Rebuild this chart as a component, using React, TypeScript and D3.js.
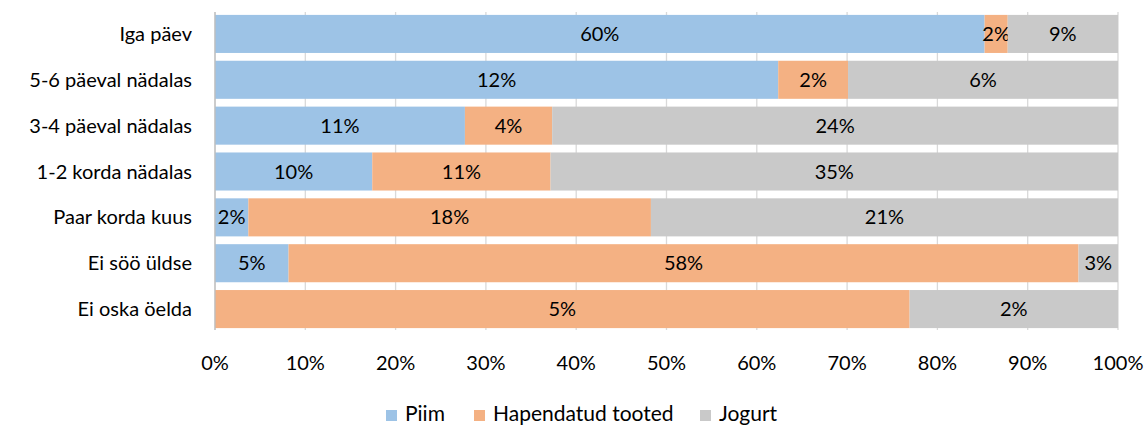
import React from "react";
import * as d3 from "d3";

const categories = [
  "Iga päev",
  "5-6 päeval nädalas",
  "3-4 päeval nädalas",
  "1-2 korda nädalas",
  "Paar korda kuus",
  "Ei söö üldse",
  "Ei oska öelda",
];
const seriesNames = ["Piim", "Hapendatud tooted", "Jogurt"];
const piim = [60.0, 12.1, 10.6, 9.7, 1.5, 5.4, 0];
const hapendatud = [1.8, 1.5, 3.7, 11.0, 18.1, 58.0, 5.0];
const jogurt = [8.6, 5.8, 24.0, 35.0, 21.0, 2.9, 1.5];
const colors = ["#9DC3E6", "#F4B183", "#C9C9C9"];
const xTicks = [0, 0.1, 0.2, 0.3, 0.4, 0.5, 0.6, 0.7, 0.8, 0.9, 1];

const W = 1147;
const H = 425;
const margin = { left: 215, right: 29, top: 11, bottom: 93 };
const FONT = "Lato, 'Open Sans', sans-serif";
const FS = 20;

export default function App() {
  const series = [piim, hapendatud, jogurt];
  const x = d3.scaleLinear().domain([0, 1]).range([margin.left, W - margin.right]);
  const y = d3
    .scaleBand<string>()
    .domain(categories)
    .range([margin.top, H - margin.bottom])
    .paddingInner(0.17)
    .paddingOuter(0.085);
  const fmt = (v: number) => d3.format(".0f")(v) + "%";
  const rows = categories.map((c, i) => {
    const vals = series.map((s) => s[i]);
    const total = d3.sum(vals);
    let acc = 0;
    return vals.map((v, k) => {
      const x0 = acc / total;
      acc += v;
      return { k, v, x0, x1: acc / total, c };
    });
  });
  const legendItems = [
    { name: seriesNames[0], x: 386 },
    { name: seriesNames[1], x: 474 },
    { name: seriesNames[2], x: 700 },
  ];
  return (
    <svg width={W} height={H} style={{ display: "block", position: "absolute", left: 0, top: 0 }} fontFamily={FONT}>
      <rect width={W} height={H} fill="#fff" />
      {xTicks.map((t) => (
        <line key={t} x1={x(t)} x2={x(t)} y1={margin.top + 1} y2={H - margin.bottom - 2} stroke="#D9D9D9" strokeWidth={1.3} />
      ))}
      {rows.map((segs) =>
        segs.map((s) =>
          s.v > 0 ? (
            <g key={s.c + s.k}>
              <rect x={x(s.x0)} y={y(s.c)!} width={x(s.x1) - x(s.x0)} height={y.bandwidth()} fill={colors[s.k]} />
              <text
                x={(x(s.x0) + x(s.x1)) / 2}
                y={y(s.c)! + y.bandwidth() / 2}
                dy="0.35em"
                textAnchor="middle"
                fontSize={FS}
                fill="#000"
              >
                {fmt(s.v)}
              </text>
            </g>
          ) : null
        )
      )}
      <line x1={x(0)} x2={x(0)} y1={margin.top + 1} y2={H - margin.bottom - 2} stroke="#BFBFBF" strokeWidth={1.3} />
      {categories.map((c) => (
        <text key={c} x={margin.left - 23} y={y(c)! + y.bandwidth() / 2} dy="0.35em" textAnchor="end" fontSize={FS} fill="#000">
          {c}
        </text>
      ))}
      {xTicks.map((t) => (
        <text key={t} x={x(t)} y={370} textAnchor="middle" fontSize={FS} fill="#000">
          {d3.format(".0%")(t)}
        </text>
      ))}
      {legendItems.map((l, i) => (
        <g key={l.name}>
          <rect x={l.x} y={410} width={11} height={11} fill={colors[i]} />
          <text x={l.x + 19} y={421} fontSize={21} fill="#000">
            {l.name}
          </text>
        </g>
      ))}
    </svg>
  );
}
